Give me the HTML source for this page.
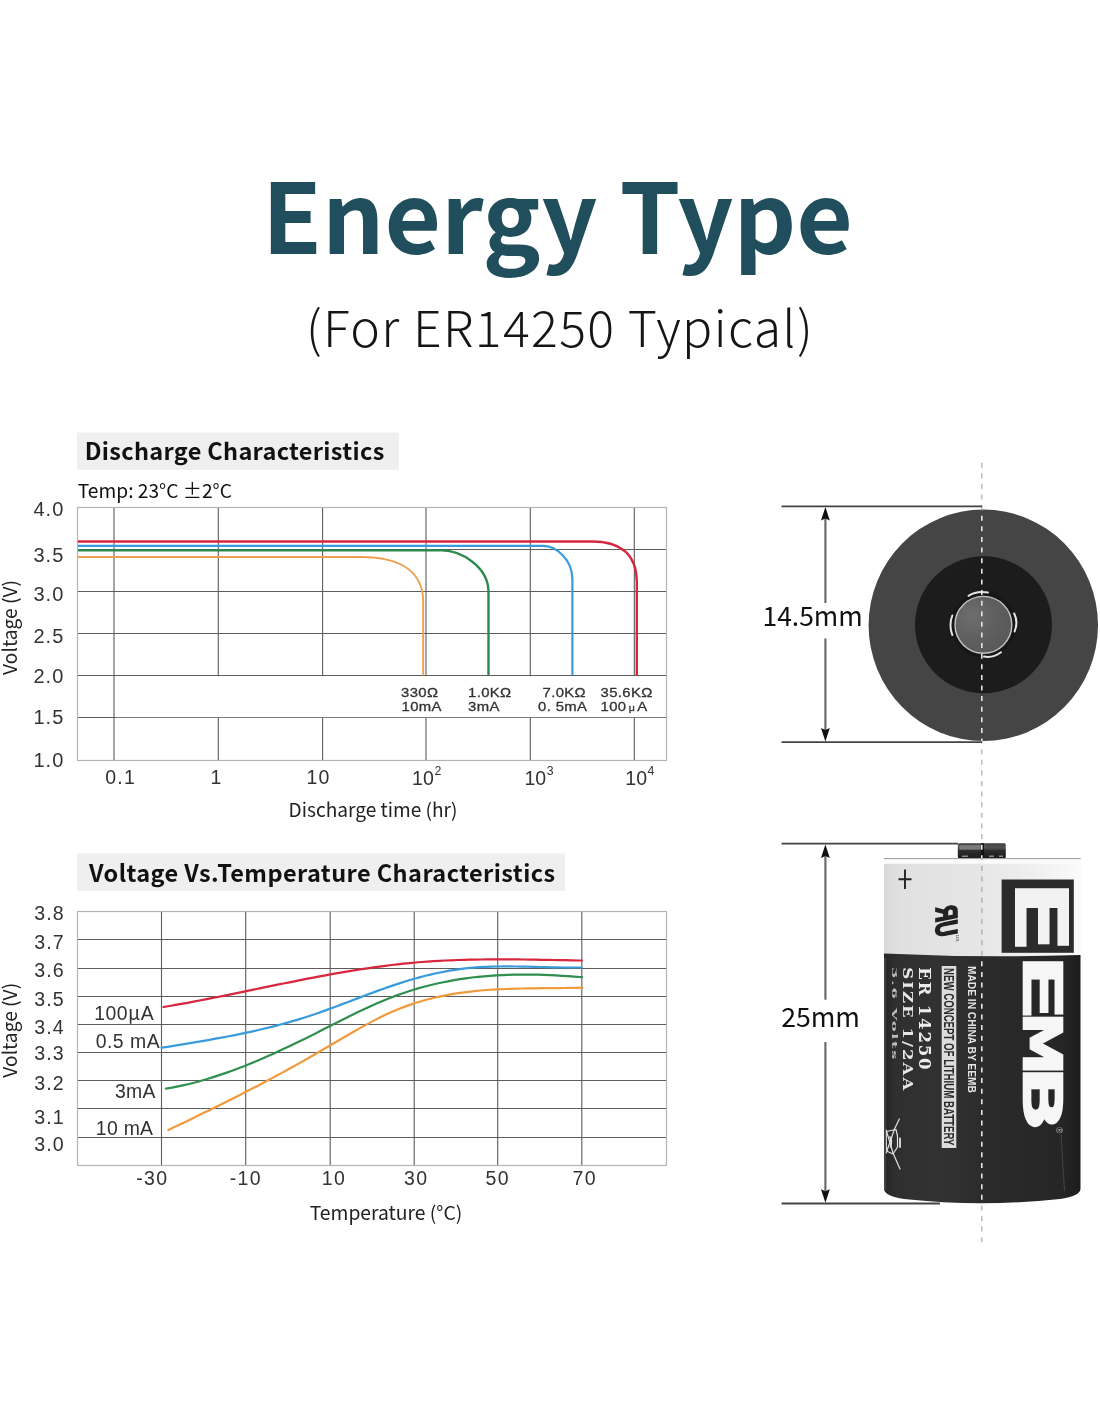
<!DOCTYPE html>
<html lang="en">
<head>
<meta charset="utf-8">
<title>Energy Type - ER14250</title>
<style>
html,body{margin:0;padding:0;background:#fff;}
body{width:1100px;height:1422px;position:relative;overflow:hidden;}
svg{position:absolute;left:0;top:0;display:block;}
.ns{font-family:"Noto Sans CJK SC","Liberation Sans",sans-serif;}
.ar{font-family:"Liberation Sans","Noto Sans CJK SC",sans-serif;}
.se{font-family:"Liberation Serif","Noto Serif CJK SC",serif;}
</style>
</head>
<body>
<svg width="1100" height="1422" viewBox="0 0 1100 1422">
<!-- ===== TITLE ===== -->
<g id="title" class="ns">
<text x="557.5" y="253.7" text-anchor="middle" font-size="97.5" textLength="591" lengthAdjust="spacing" font-weight="700" fill="#214e5c">Energy Type</text>
<text x="560" y="347" text-anchor="middle" font-size="50" letter-spacing="1.35" textLength="508.2" lengthAdjust="spacing" font-weight="300" fill="#151515">(For ER14250 Typical)</text>
</g>

<!-- ===== CHART 1 ===== -->
<g id="chart1">
<rect x="77" y="432.5" width="322" height="37.5" fill="#efefef"/>
<text class="ns" x="84.7" y="460" font-size="23.5" letter-spacing="0.32" font-weight="700" fill="#111">Discharge Characteristics</text>
<text class="ns" x="77.8" y="497.8" font-size="19.2" fill="#111">Temp: 23°C ±2°C</text>
<!-- grid -->
<g stroke="#5c5c5c" stroke-width="1.1" fill="none">
<path d="M77.5 549.5H666 M77.5 591.5H666 M77.5 633.5H666 M77.5 675.5H666 M77.5 717.5H666"/>
<path d="M114 507V760 M218.3 507V760 M322.6 507V760 M426 507V760 M530.3 507V760 M634.3 507V760"/>
</g>
<rect x="116" y="676.2" width="549" height="41" fill="#fff"/>
<rect x="77.5" y="507.5" width="589" height="253" fill="none" stroke="#b4b4b4" stroke-width="1.2"/>
<!-- curves -->
<g fill="none" stroke-width="2.2" stroke-linecap="butt">
<path id="c1o" stroke="#eda04f" stroke-width="1.9" d="M78 557H362C395 557.3 423.2 568 423.2 602V675.5"/>
<path id="c1g" stroke="#2d8a4c" stroke-width="2.4" d="M78 550.4H442C460 550.4 488.5 566 488.5 592V675.5"/>
<path id="c1b" stroke="#3a9bdc" d="M78 545.9H543C555 545.9 572.4 558 572.4 580V675.5"/>
<path id="c1r" stroke="#d7263d" stroke-width="2.4" d="M78 541.5H592C615 541.5 636.8 550 636.8 582V675.5"/>
</g>
<!-- y labels -->
<g class="ar" font-size="20" fill="#333" letter-spacing="1.1" transform="translate(0,0.4)">
<text x="33.4" y="515.9">4.0</text>
<text x="33.4" y="561.8">3.5</text>
<text x="33.4" y="600.4">3.0</text>
<text x="33.4" y="642.9">2.5</text>
<text x="33.4" y="682.6">2.0</text>
<text x="33.4" y="723.6">1.5</text>
<text x="33.4" y="766.3">1.0</text>
</g>
<text class="ns" transform="translate(16.8,627.5) rotate(-90)" text-anchor="middle" font-size="19.2" fill="#222">Voltage (V)</text>
<!-- x labels -->
<g class="ar" font-size="19.5" fill="#333" transform="translate(0.5,0.4)">
<text x="104.7" y="784.1" letter-spacing="1.3">0.1</text>
<text x="210" y="784.1">1</text>
<text x="306.1" y="784.1" letter-spacing="1">10</text>
<text x="411.6" y="784.2">10<tspan font-size="12.3" dy="-9.5" dx="0.6">2</tspan></text>
<text x="524" y="784.2">10<tspan font-size="12.3" dy="-9.5" dx="0.6">3</tspan></text>
<text x="624.8" y="784.2">10<tspan font-size="12.3" dy="-9.5" dx="0.6">4</tspan></text>
</g>
<text class="ns" x="373" y="816.5" text-anchor="middle" font-size="19.1" fill="#222">Discharge time (hr)</text>
<!-- curve labels -->
<g class="ar" font-size="13.4" fill="#333" stroke="#333" stroke-width="0.3" letter-spacing="0.35">
<text transform="translate(401,697.1) scale(1.11,1)">330Ω</text><text transform="translate(401.5,711) scale(1.11,1)">10mA</text>
<text transform="translate(468,697.1) scale(1.11,1)">1.0KΩ</text><text transform="translate(468,711) scale(1.11,1)">3mA</text>
<text transform="translate(542.5,697.1) scale(1.11,1)">7.0KΩ</text><text transform="translate(538,711) scale(1.11,1)">0. 5mA</text>
<text transform="translate(600.5,697.1) scale(1.11,1)">35.6KΩ</text><text transform="translate(600.5,711) scale(1.11,1)">100<tspan font-size="9.5" dx="2">μ</tspan><tspan dx="2">A</tspan></text>
</g>
</g>

<!-- ===== CHART 2 ===== -->
<g id="chart2">
<rect x="77" y="853.5" width="488" height="37.5" fill="#efefef"/>
<text class="ns" x="89" y="881.9" font-size="23.5" letter-spacing="0.42" font-weight="700" fill="#111">Voltage Vs.<tspan dx="0.8">Temperature Characteristics</tspan></text>
<g stroke="#5c5c5c" stroke-width="1.1" fill="none">
<path d="M77.5 939.5H666 M77.5 968.5H666 M77.5 996.5H666 M77.5 1024.5H666 M77.5 1052.5H666 M77.5 1080.5H666 M77.5 1108.5H666 M77.5 1137.5H666"/>
<path d="M161.5 911V1165 M245.7 911V1165 M330.2 911V1165 M414.2 911V1165 M497.7 911V1165 M581.8 911V1165"/>
</g>
<rect x="77.5" y="911.5" width="589" height="254" fill="none" stroke="#b4b4b4" stroke-width="1.2"/>
<g fill="none" stroke-width="2.2" stroke-linecap="round" stroke-linejoin="round">
<path id="c2r" stroke="#d7263d" d="M163.5 1007.0L169.5 1006.0L175.5 1004.9L181.5 1003.9L187.5 1002.8L193.5 1001.7L199.5 1000.5L205.5 999.4L211.5 998.2L217.5 997.0L223.5 995.8L229.5 994.6L235.5 993.3L241.5 992.1L247.5 990.9L253.5 989.6L259.5 988.4L265.5 987.2L271.5 985.9L277.5 984.7L283.5 983.5L289.5 982.3L295.5 981.1L301.5 979.9L307.5 978.7L313.5 977.6L319.5 976.4L325.5 975.3L331.5 974.2L337.5 973.1L343.5 972.1L349.5 971.1L355.5 970.1L361.5 969.2L367.5 968.3L373.5 967.4L379.5 966.6L385.5 965.8L391.5 965.0L397.5 964.3L403.5 963.7L409.5 963.1L415.5 962.5L421.5 962.0L427.5 961.6L433.5 961.2L439.5 960.8L445.5 960.5L451.5 960.3L457.5 960.0L463.5 959.8L469.5 959.7L475.5 959.6L481.5 959.5L487.5 959.4L493.5 959.4L499.5 959.4L505.5 959.4L511.5 959.4L517.5 959.4L523.5 959.5L529.5 959.6L535.5 959.7L541.5 959.8L547.5 959.9L553.5 960.0L559.5 960.1L565.5 960.2L571.5 960.4L577.5 960.5L582.0 960.5"/>
<path id="c2b" stroke="#3a9bdc" d="M161.5 1047.7L167.5 1046.8L173.5 1045.8L179.5 1044.8L185.5 1043.8L191.5 1042.8L197.5 1041.8L203.5 1040.8L209.5 1039.8L215.5 1038.7L221.5 1037.6L227.5 1036.5L233.5 1035.3L239.5 1034.1L245.5 1032.9L251.5 1031.6L257.5 1030.2L263.5 1028.8L269.5 1027.4L275.5 1025.9L281.5 1024.3L287.5 1022.6L293.5 1020.9L299.5 1019.1L305.5 1017.2L311.5 1015.3L317.5 1013.2L323.5 1011.1L329.5 1008.9L335.5 1006.7L341.5 1004.4L347.5 1002.2L353.5 999.9L359.5 997.6L365.5 995.3L371.5 993.1L377.5 990.9L383.5 988.7L389.5 986.6L395.5 984.6L401.5 982.6L407.5 980.8L413.5 979.0L419.5 977.4L425.5 975.8L431.5 974.4L437.5 973.0L443.5 971.8L449.5 970.7L455.5 969.8L461.5 968.9L467.5 968.2L473.5 967.7L479.5 967.2L485.5 966.9L491.5 966.7L497.5 966.5L503.5 966.4L509.5 966.4L515.5 966.5L521.5 966.6L527.5 966.7L533.5 966.8L539.5 967.0L545.5 967.1L551.5 967.3L557.5 967.4L563.5 967.5L569.5 967.5L575.5 967.5L581.5 967.5"/>
<path id="c2g" stroke="#2f8f4e" d="M166.0 1088.6L172.0 1087.6L178.0 1086.4L184.0 1085.1L190.0 1083.7L196.0 1082.2L202.0 1080.5L208.0 1078.8L214.0 1076.9L220.0 1074.9L226.0 1072.9L232.0 1070.7L238.0 1068.5L244.0 1066.2L250.0 1063.7L256.0 1061.3L262.0 1058.7L268.0 1056.1L274.0 1053.4L280.0 1050.6L286.0 1047.8L292.0 1045.0L298.0 1042.1L304.0 1039.2L310.0 1036.2L316.0 1033.2L322.0 1030.1L328.0 1027.1L334.0 1024.0L340.0 1021.0L346.0 1018.0L352.0 1015.0L358.0 1012.1L364.0 1009.3L370.0 1006.5L376.0 1003.8L382.0 1001.2L388.0 998.8L394.0 996.4L400.0 994.2L406.0 992.2L412.0 990.2L418.0 988.4L424.0 986.7L430.0 985.2L436.0 983.8L442.0 982.5L448.0 981.3L454.0 980.2L460.0 979.2L466.0 978.3L472.0 977.5L478.0 976.9L484.0 976.3L490.0 975.8L496.0 975.4L502.0 975.1L508.0 974.8L514.0 974.7L520.0 974.6L526.0 974.6L532.0 974.6L538.0 974.7L544.0 974.9L550.0 975.1L556.0 975.4L562.0 975.8L568.0 976.1L574.0 976.6L580.0 977.0L582.0 977.2"/>
<path id="c2o" stroke="#f09a3e" d="M168.4 1130.0L174.4 1127.1L180.4 1124.3L186.4 1121.4L192.4 1118.5L198.4 1115.6L204.4 1112.6L210.4 1109.7L216.4 1106.7L222.4 1103.8L228.4 1100.8L234.4 1097.7L240.4 1094.7L246.4 1091.6L252.4 1088.5L258.4 1085.4L264.4 1082.2L270.4 1079.1L276.4 1075.8L282.4 1072.6L288.4 1069.3L294.4 1066.0L300.4 1062.6L306.4 1059.2L312.4 1055.8L318.4 1052.3L324.4 1048.8L330.4 1045.3L336.4 1041.7L342.4 1038.2L348.4 1034.7L354.4 1031.2L360.4 1027.9L366.4 1024.6L372.4 1021.4L378.4 1018.3L384.4 1015.3L390.4 1012.6L396.4 1010.0L402.4 1007.6L408.4 1005.4L414.4 1003.3L420.4 1001.5L426.4 999.8L432.4 998.2L438.4 996.8L444.4 995.6L450.4 994.4L456.4 993.4L462.4 992.6L468.4 991.8L474.4 991.1L480.4 990.5L486.4 990.0L492.4 989.6L498.4 989.3L504.4 989.0L510.4 988.8L516.4 988.6L522.4 988.5L528.4 988.4L534.4 988.3L540.4 988.2L546.4 988.2L552.4 988.1L558.4 988.1L564.4 988.0L570.4 987.9L576.4 987.8L582.4 987.6"/>
</g>
<g class="ar" font-size="19.6" fill="#333" letter-spacing="1.1" transform="translate(0,0.4)">
<text x="34.2" y="919.3">3.8</text>
<text x="34.2" y="948.6">3.7</text>
<text x="34.2" y="976.6">3.6</text>
<text x="34.2" y="1005.4">3.5</text>
<text x="34.2" y="1033.4">3.4</text>
<text x="34.2" y="1059.2">3.3</text>
<text x="34.2" y="1090">3.2</text>
<text x="34.2" y="1123.8">3.1</text>
<text x="34.2" y="1151.1">3.0</text>
</g>
<text class="ns" transform="translate(16.5,1030.3) rotate(-90)" text-anchor="middle" font-size="19.2" fill="#222">Voltage (V)</text>
<g class="ar" font-size="19.5" fill="#333" letter-spacing="1.4" transform="translate(0,0.4)">
<text x="136.2" y="1185.1">-30</text>
<text x="229.7" y="1185.1">-10</text>
<text x="321.8" y="1185.1">10</text>
<text x="404" y="1185.1">30</text>
<text x="485.6" y="1185.1">50</text>
<text x="572.5" y="1185.1">70</text>
</g>
<text class="ns" x="386" y="1219.9" text-anchor="middle" font-size="19.3" fill="#222">Temperature (°C)</text>
<g class="ar" font-size="19.4" fill="#333">
<text x="94.2" y="1019.6" letter-spacing="0.5">100<tspan class="ns">μ</tspan>A</text>
<text x="95.7" y="1048.4" letter-spacing="0.5">0.5 mA</text>
<text x="115" y="1098" letter-spacing="0.3">3mA</text>
<text x="95.8" y="1134.5" letter-spacing="0.3">10 mA</text>
</g>
</g>

<!-- ===== BATTERIES ===== -->
<g id="bat">
<defs>
<linearGradient id="gBody" x1="0" y1="0" x2="1" y2="0">
<stop offset="0" stop-color="#262626"/><stop offset="0.06" stop-color="#2f2f2f"/><stop offset="0.3" stop-color="#323232"/><stop offset="0.55" stop-color="#2a2a2a"/><stop offset="0.9" stop-color="#262626"/><stop offset="1" stop-color="#1c1c1c"/>
</linearGradient>
<linearGradient id="gLabel" x1="0" y1="0" x2="1" y2="0">
<stop offset="0" stop-color="#d9d9d9"/><stop offset="0.08" stop-color="#e0e0e0"/><stop offset="0.5" stop-color="#e6e6e6"/><stop offset="0.8" stop-color="#f1f1f1"/><stop offset="1" stop-color="#fafafa"/>
</linearGradient>
<linearGradient id="gCap" x1="0" y1="0" x2="0" y2="1">
<stop offset="0" stop-color="#3a3a3a"/><stop offset="0.25" stop-color="#5c5c5c"/><stop offset="0.5" stop-color="#2c2c2c"/><stop offset="1" stop-color="#1d1d1d"/>
</linearGradient>
<radialGradient id="gBtn" cx="0.3" cy="0.35" r="0.75">
<stop offset="0" stop-color="#6e6e6e"/><stop offset="0.5" stop-color="#606060"/><stop offset="1" stop-color="#585858"/>
</radialGradient>
<clipPath id="clipDark"><ellipse cx="983.3" cy="625.3" rx="114.7" ry="115.7"/><rect x="884" y="956.3" width="197" height="247.2"/><rect x="957.8" y="843.2" width="48" height="15"/></clipPath>
<clipPath id="clipLabel"><rect x="884" y="859" width="197" height="97.3"/></clipPath>
</defs>
<line x1="981.8" y1="462.7" x2="981.8" y2="1243" stroke="#bcbcbc" stroke-width="1.5" stroke-dasharray="5 5.61"/>

<!-- top view -->
<g id="topview">
<ellipse cx="983.3" cy="625.3" rx="114.7" ry="115.7" fill="#454545"/>
<circle cx="983.5" cy="624.8" r="68.5" fill="#1c1c1c"/>
<circle cx="983.4" cy="624.8" r="33" fill="#171717"/>
<g fill="none" stroke="#e6e6e6" stroke-width="2" stroke-linecap="round">
<path d="M968.5 595.8Q977 590.3 988 592.6"/>
<path d="M952.3 615.5Q948.6 625 952.3 635"/>
<path d="M1014.2 613.5Q1018.4 622 1014.6 631.5"/>
<path d="M984 656.6Q992.5 658.4 1001 652.3"/>
</g>
<circle cx="983.4" cy="624.8" r="28.4" fill="url(#gBtn)" stroke="#c4c4c4" stroke-width="1.4"/>
<g stroke="#444" fill="none">
<line x1="781.5" y1="506.3" x2="982" y2="506.3" stroke-width="1.8"/>
<line x1="781.5" y1="742.2" x2="982" y2="742.2" stroke-width="1.8"/>
<line x1="825.4" y1="518" x2="825.4" y2="603" stroke-width="2.1" stroke="#666"/>
<line x1="825.4" y1="638.5" x2="825.4" y2="730" stroke-width="2.1" stroke="#666"/>
</g>
<path d="M825.4 507L829.8 520.5L825.4 518.5L821 520.5Z" fill="#111"/>
<path d="M825.4 741.5L829.8 728L825.4 730L821 728Z" fill="#111"/>
<text class="ns" x="762.5" y="625.8" font-size="26.4" fill="#111">14.5mm</text>
</g>

<!-- side view -->
<g id="sideview">
<rect x="957.8" y="843.2" width="48" height="15" rx="1.5" fill="url(#gCap)"/>
<rect x="959.5" y="845.2" width="21" height="4.4" fill="#7c7c7c"/><rect x="986" y="844.6" width="18" height="3" fill="#4a4a4a" opacity="0.8"/><rect x="981" y="843.2" width="3" height="15" fill="#111"/><path d="M962 856.3h6M989 856.3h5M999 856.3h4" stroke="#8a8a8a" stroke-width="1.6"/>
<!-- white label -->
<path d="M884 859H1080.7V959H884Z" fill="url(#gLabel)"/>
<rect x="884" y="858.3" width="196.7" height="5.5" fill="#fbfbfb"/>
<line x1="884" y1="858.6" x2="1080.7" y2="858.6" stroke="#9a9a9a" stroke-width="1"/>
<!-- black body -->
<path d="M884 953.6Q982 958.2 1080.5 955V1189Q1080 1196 1060 1199Q982 1207.5 904 1199Q884.5 1196 884 1189Z" fill="url(#gBody)"/>
<!-- plus -->
<path d="M898.5 879.2H911.5M905 869.5V889" stroke="#222" stroke-width="1.9" fill="none"/>
<!-- UR mark -->
<g transform="translate(936.3,904.3) rotate(90)" font-family="'Liberation Sans',sans-serif" font-weight="700" font-style="italic" font-size="30.5" fill="#222" stroke="#222" stroke-width="1.7">
<text transform="translate(33,0) scale(-0.7,1) skewX(-5)">UR</text>
</g>
<text class="ar" transform="translate(955.5,934.5) rotate(90)" font-size="6" font-weight="700" fill="#777">us</text>
<!-- logo -->
<rect x="1001.6" y="879.5" width="72.2" height="73.3" fill="#2b2b2b"/>
<g font-family="'DejaVu Sans','Liberation Sans',sans-serif" font-weight="400" stroke-linejoin="miter">
<text transform="translate(1017.5,882.7) rotate(90) scale(1.58,1)" font-size="66" fill="#f2f2f2" stroke="#f2f2f2" stroke-width="6">E</text>
<g font-size="50" fill="#f6f6f6" stroke="#f6f6f6" stroke-width="4.5">
<text transform="translate(1024.6,956.1) rotate(90) scale(1.94,1)">E</text>
<text transform="translate(1024.6,1013.1) rotate(90) scale(1.418,1)">M</text>
<text transform="translate(1024.6,1067.4) rotate(90) scale(1.808,1)">B</text>
</g>
</g>
<text class="ar" transform="translate(1056,1127) rotate(90)" font-size="8.5" fill="#bbb">®</text>
<!-- texts -->
<text class="ar" transform="translate(968.3,966) rotate(90)" font-size="10.2" font-weight="700" fill="#e4e4e4">MADE IN CHINA BY EEMB</text>
<rect x="941.7" y="966" width="14.6" height="182" fill="#dcdcdc"/>
<text class="ar" transform="translate(944,968) rotate(90) scale(0.69,1)" font-size="14" font-weight="700" fill="#2a2a2a">NEW CONCEPT OF LITHIUM BATTERY</text>
<g font-family="'DejaVu Serif','Liberation Serif',serif" font-weight="700" font-size="16.5" letter-spacing="1.7">
<text transform="translate(918.5,967.2) rotate(90)" fill="#ececec" letter-spacing="1.85">ER 14250</text>
<text transform="translate(903,967.2) rotate(90) scale(1,0.83)" fill="#e6e6e6" letter-spacing="2.05">SIZE 1/2AA</text>
<text transform="translate(891.5,967) rotate(90) scale(0.99,0.42)" fill="#bdbdbd">3.6 Volts</text>
</g>
<!-- wheeled bin -->
<g fill="none" stroke="#e2e2e2" stroke-width="1.2" stroke-linecap="round" stroke-linejoin="round">
<path d="M899.3 1119L894.5 1129L886.2 1153"/>
<path d="M886.2 1130L893 1153L900 1169"/>
<path d="M886.3 1131.5L896 1129.5L897.5 1136V1147L893 1154L886.5 1151Z"/>
<path d="M890 1137Q892.5 1141 890.5 1147" stroke-width="1.6"/>
<path d="M900 1138.5V1147" stroke-width="1.8"/>
</g>
<rect x="884" y="958" width="2.2" height="232" fill="#555" opacity="0.55"/>
<line x1="1061" y1="1134" x2="1064.5" y2="1191" stroke="#444" stroke-width="1"/>
<line x1="981.8" y1="462.7" x2="981.8" y2="1243" stroke="#b4b4b4" stroke-width="1.5" stroke-dasharray="5 5.61" clip-path="url(#clipLabel)"/>
<line x1="981.8" y1="462.7" x2="981.8" y2="1243" stroke="#e4e4e4" stroke-width="1.6" stroke-dasharray="5 5.61" clip-path="url(#clipDark)"/>
<!-- dimension -->
<g stroke="#444" fill="none">
<line x1="781.5" y1="843.7" x2="958" y2="843.7" stroke-width="1.8"/>
<line x1="781.5" y1="1203.5" x2="940" y2="1203.5" stroke-width="1.8"/>
<line x1="825.4" y1="856" x2="825.4" y2="999.7" stroke-width="2.1" stroke="#666"/>
<line x1="825.4" y1="1042" x2="825.4" y2="1191" stroke-width="2.1" stroke="#666"/>
</g>
<path d="M825.4 844.5L829.8 858L825.4 856L821 858Z" fill="#111"/>
<path d="M825.4 1202.8L829.8 1189.3L825.4 1191.3L821 1189.3Z" fill="#111"/>
<text class="ns" x="781.2" y="1026.8" font-size="26.6" fill="#111">25mm</text>
</g>
</g>
</svg>
</body>
</html>
